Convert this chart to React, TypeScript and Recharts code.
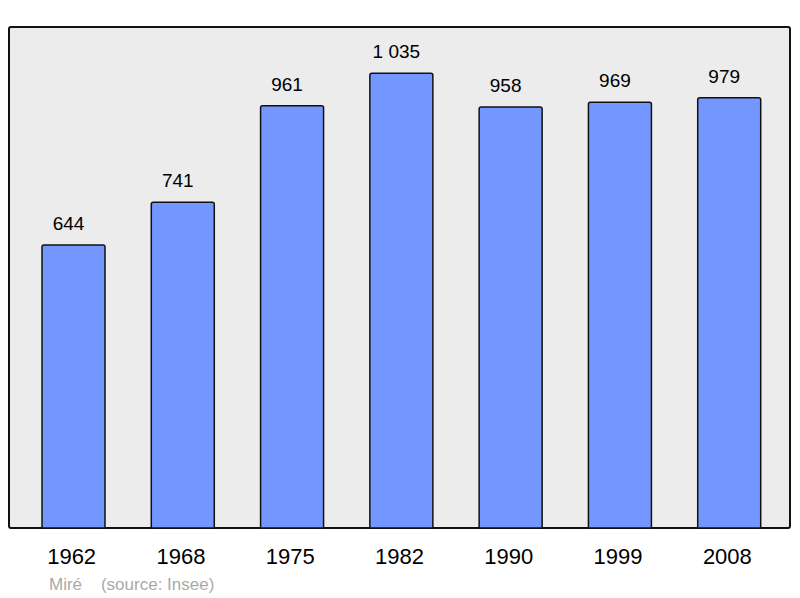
import { BarChart, Bar, XAxis, YAxis, LabelList } from "recharts";

const years = ["1962", "1968", "1975", "1982", "1990", "1999", "2008"];
const population = [644, 741, 961, 1035, 958, 969, 979];

const data = years.map((year, i) => ({ year, value: population[i] }));

const font = "'Liberation Sans', Arial, sans-serif";

// "1035" -> "1 035"
function formatValue(v: number) {
  return String(v).replace(/\B(?=(\d{3})+(?!\d))/g, " ");
}

function YearTick(props: any) {
  const { x, y, payload } = props;
  return (
    <text x={x - 2} y={y + 28} textAnchor="middle" fontSize={22} fontFamily={font} fill="#000">
      {payload.value}
    </text>
  );
}

function ValueLabel(props: any) {
  const { x, y, width, value } = props;
  return (
    <text x={x + width / 2 - 5} y={y - 15} textAnchor="middle" fontSize={19} fontFamily={font} fill="#000">
      {formatValue(value)}
    </text>
  );
}

export default function App() {
  return (
    <div style={{ position: "absolute", left: 0, top: 0, width: 800, height: 598 }}>
      {/* plot frame */}
      <div
        style={{
          position: "absolute",
          left: 8,
          top: 26,
          width: 783,
          height: 503,
          boxSizing: "border-box",
          border: "2px solid #111",
          borderRadius: 3,
          background: "#ececec",
        }}
      />
      <div style={{ position: "absolute", left: 0, top: 0 }}>
        <BarChart width={800} height={598} data={data} margin={{ top: 27, right: 10, bottom: 40, left: 9 }}>
          <XAxis
            dataKey="year"
            height={30}
            axisLine={false}
            tickLine={false}
            padding={{ left: 10, right: 6 }}
            tick={<YearTick />}
            interval={0}
          />
          <YAxis hide domain={[0, 1140]} />
          <Bar
            dataKey="value"
            fill="#7396ff"
            stroke="#111"
            strokeWidth={1.5}
            barSize={63}
            radius={[2, 2, 0, 0]}
            isAnimationActive={false}
          >
            <LabelList dataKey="value" content={<ValueLabel />} />
          </Bar>
        </BarChart>
      </div>
      <div
        style={{
          position: "absolute",
          left: 49,
          top: 575,
          fontFamily: font,
          fontSize: 17,
          color: "#aaaaaa",
          whiteSpace: "pre",
        }}
      >
        {"Miré    (source: Insee)"}
      </div>
    </div>
  );
}
